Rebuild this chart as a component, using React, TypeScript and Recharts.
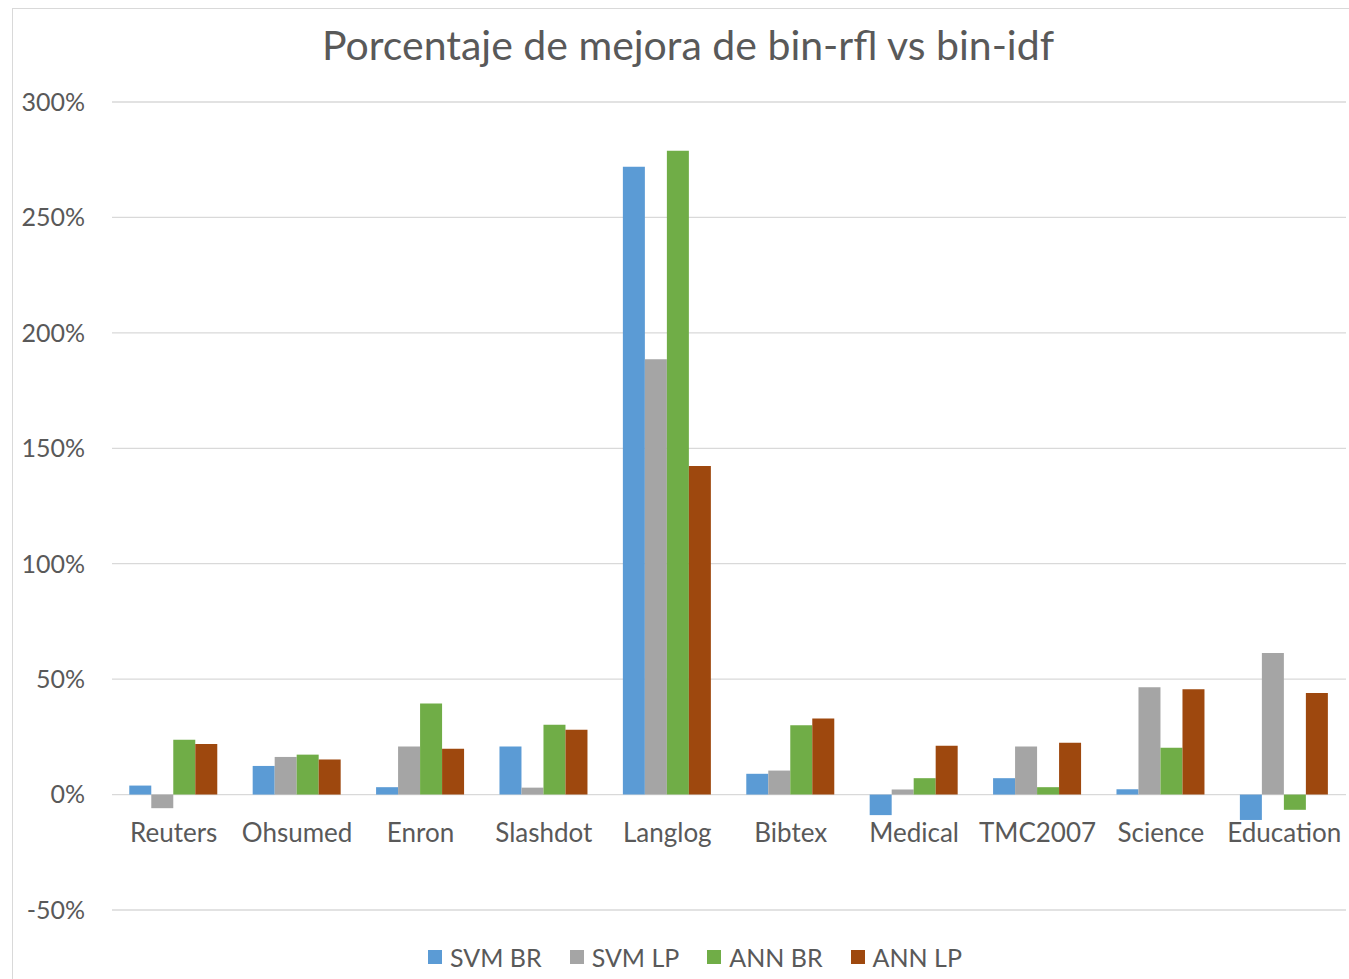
import React from 'react';
import { BarChart, Bar, XAxis, YAxis, CartesianGrid } from 'recharts';

const categories = ['Reuters', 'Ohsumed', 'Enron', 'Slashdot', 'Langlog', 'Bibtex', 'Medical', 'TMC2007', 'Science', 'Education'];
const svmBR = [3.9, 12.4, 3.2, 20.8, 271.9, 9.0, -8.9, 7.1, 2.3, -11.0];
const svmLP = [-5.9, 16.3, 20.8, 3.0, 188.6, 10.4, 2.2, 20.8, 46.5, 61.3];
const annBR = [23.7, 17.3, 39.4, 30.2, 278.9, 30.0, 7.1, 3.2, 20.3, -6.6];
const annLP = [21.9, 15.2, 19.9, 28.1, 142.3, 32.9, 21.2, 22.4, 45.6, 44.0];
const yTicks = [-50, 0, 50, 100, 150, 200, 250, 300];

const seriesNames = ['SVM BR', 'SVM LP', 'ANN BR', 'ANN LP'];
const seriesKeys = ['svmBR', 'svmLP', 'annBR', 'annLP'];
const colors = ['#5B9BD5', '#A5A5A5', '#70AD47', '#9E480E'];

const data = categories.map((c, i) => ({
  name: c,
  svmBR: svmBR[i],
  svmLP: svmLP[i],
  annBR: annBR[i],
  annLP: annLP[i],
}));

const FONT = 'Lato, "Open Sans", sans-serif';
const TXT = '#595959';

const CatTick = (props: any) => {
  const { x, y, payload } = props;
  return (
    <text x={x} y={y} dy={-76} textAnchor="middle" fill={TXT} fontSize={26} fontFamily={FONT}>
      {payload.value}
    </text>
  );
};

export default function App() {
  return (
    <div style={{ position: 'absolute', left: 0, top: 0, width: 1349, height: 979, background: '#fff', overflow: 'hidden' }}>
      <div style={{ position: 'absolute', left: 12, top: 8, width: 1345, height: 980, borderLeft: '1px solid #d9d9d9', borderTop: '1px solid #d9d9d9' }} />
      <div style={{ position: 'absolute', left: 0, top: 20, width: 1376, textAlign: 'center', fontFamily: FONT, fontSize: 41, color: TXT }}>
        Porcentaje de mejora de bin-rfl vs bin-idf
      </div>
      <div style={{ position: 'absolute', left: 0, top: 0 }}>
        <BarChart
          width={1349}
          height={979}
          data={data}
          margin={{ top: 102, right: 3, bottom: 0, left: 0 }}
          barCategoryGap="14%"
          barGap={0}
        >
          <CartesianGrid vertical={false} stroke="#d9d9d9" strokeWidth={1.3} />
          <XAxis dataKey="name" axisLine={false} tickLine={false} tick={<CatTick />} interval={0} height={69} />
          <YAxis
            domain={[-50, 300]}
            ticks={yTicks}
            axisLine={false}
            tickLine={false}
            width={112}
            tickFormatter={(v: number) => `${v}%`}
            tick={{ fill: TXT, fontSize: 25, fontFamily: FONT }}
            tickMargin={21}
          />
          {seriesKeys.map((k, i) => (
            <Bar key={k} dataKey={k} name={seriesNames[i]} fill={colors[i]} isAnimationActive={false} />
          ))}
        </BarChart>
      </div>
      <div style={{ position: 'absolute', left: 17, top: 940, width: 1384, display: 'flex', justifyContent: 'center', fontFamily: FONT, fontSize: 25, color: TXT, lineHeight: '34px' }}>
        {seriesNames.map((n, i) => (
          <div key={n} style={{ display: 'flex', alignItems: 'center', marginRight: 28 }}>
            <span style={{ display: 'inline-block', width: 14, height: 14, background: colors[i], marginRight: 8 }} />
            <span>{n}</span>
          </div>
        ))}
      </div>
    </div>
  );
}
